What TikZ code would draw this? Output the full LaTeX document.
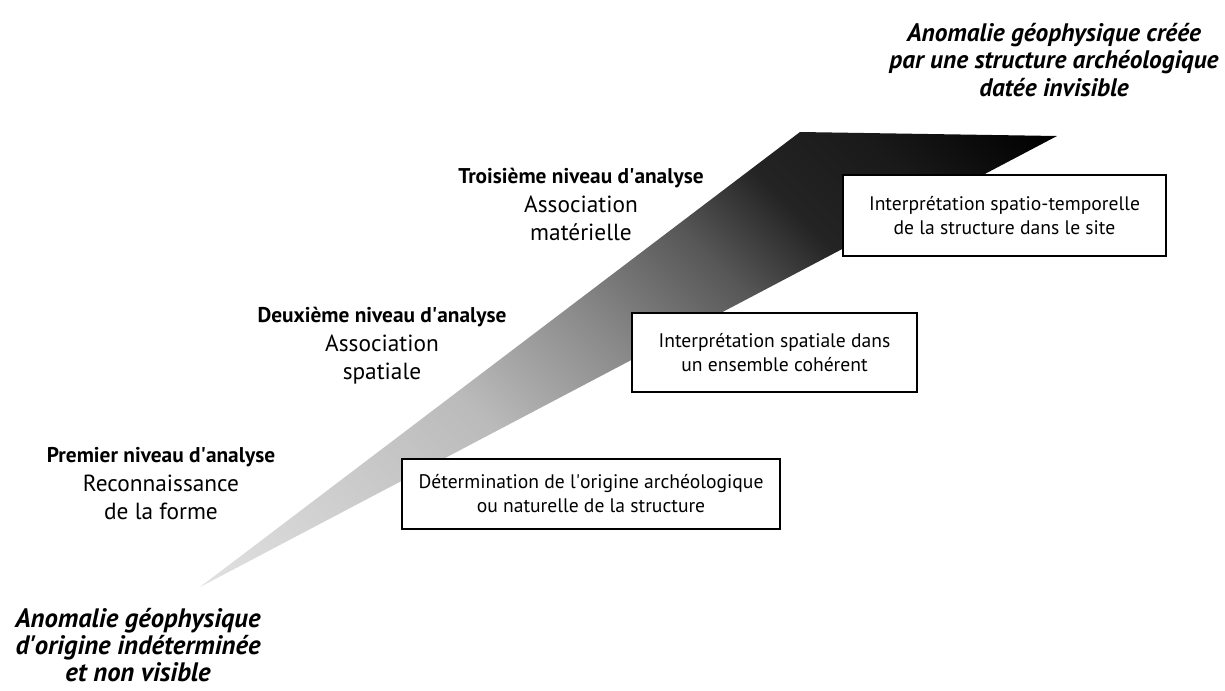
\documentclass[tikz,border=0pt]{standalone}
\usepackage{fontspec}
\setmainfont{PT Sans}
\usetikzlibrary{positioning}
\newcommand{\apos}{\textquotesingle}
\pgfdeclarehorizontalshading{wedgeshade}{100bp}{%
  color(0bp)=(black!10); color(15bp)=(black!12); color(39bp)=(black!27);
  color(50bp)=(black!46); color(60bp)=(black!66); color(67bp)=(black!86);
  color(75bp)=(black!90); color(85bp)=(black); color(100bp)=(black)}
\tikzset{
    box/.style={
        draw=black,line width=1.3pt,fill=white,
        align=center,inner sep=0pt,font=\fontsize{14.7}{18}\selectfont
    },
    levelhead/.style={
        align=center,inner sep=0pt,font=\fontsize{16}{18}\selectfont\bfseries
    },
    leveltext/.style={
        align=center,inner sep=0pt,font=\fontsize{17.5}{21}\selectfont
    },
    anomaly/.style={
        align=center,inner sep=0pt,font=\fontsize{#1}{20.5}\selectfont\bfseries\itshape
    },
    anomaly/.default=19
}

\begin{document}
\begin{tikzpicture}[x=0.75pt,y=-0.75pt]
\useasboundingbox[fill=white] (0,0) rectangle (1225,690);

% the wedge
\shade[shading=wedgeshade,shading angle=45]
(200,587) -- (800,132) -- (1057,136) -- cycle;

% boxes
\node[box,minimum width=283.5pt,minimum height=52.5pt]
(b1) at (591,494){D\'etermination de l\apos origine arch\'eologique\\
ou naturelle de la structure};

\node[box,minimum width=213.75pt,minimum height=59.25pt]
(b2) at (774.5,352.5){Interpr\'etation spatiale dans\\
un ensemble coh\'erent};

\node[box,minimum width=242.25pt,minimum height=60.75pt]
(b3) at (1004.5,215.5){Interpr\'etation spatio-temporelle\\
de la structure dans le site};

% levels
\node[levelhead] (n1) at (161,457){Premier niveau d\apos analyse};
\node[leveltext,below=6pt of n1] (t1){Reconnaissance\\de la forme};

\node[levelhead] (n2) at (382,317){Deuxi\`eme niveau d\apos analyse};
\node[leveltext,below=6pt of n2] (t2){Association\\spatiale};

\node[levelhead] (n3) at (581,178){Troisi\`eme niveau d\apos analyse};
\node[leveltext,below=6pt of n3] (t3){Association\\mat\'erielle};

% anomalies
\node[anomaly=20] (abas) at (138,645){Anomalie g\'eophysique\\
d\apos origine ind\'etermin\'ee\\et non visible};

\node[anomaly] (ahaut) at (1054,60){Anomalie g\'eophysique cr\'e\'ee\\
par une structure arch\'eologique\\dat\'ee invisible};

\end{tikzpicture}
\end{document}
